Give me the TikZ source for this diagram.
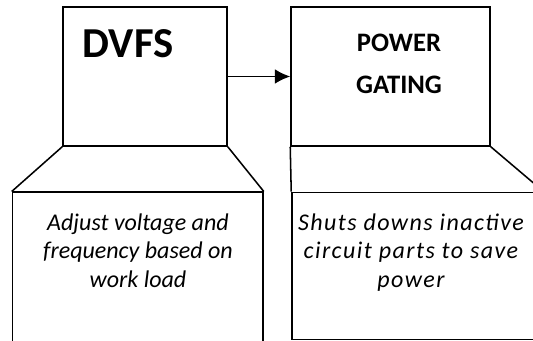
\documentclass[tikz,border=0pt]{standalone}
\usepackage{fontspec}
\setmainfont{Carlito}
\newfontfamily\spacedfont[LetterSpace=6]{Carlito}
\usetikzlibrary{arrows.meta}

\tikzset{
  box/.style={draw, inner sep=0pt},
  title/.style={align=center, inner sep=0pt},
  note/.style={font=\itshape\fontsize{18}{21.4}\selectfont, align=center, inner sep=0pt},
}

\begin{document}
\begin{tikzpicture}[x=0.75pt, y=-0.75pt, line width=1.15pt]
  \useasboundingbox (0,0) rectangle (533,341);
  \clip (0,0) rectangle (533,341);

  % upper boxes
  \node[box, minimum width=123pt, minimum height=104.25pt] (dvfs) at (145,76.5) {};
  \node[box, minimum width=149.25pt, minimum height=104.25pt] (pg) at (390.5,76.5) {};

  % lower boxes
  \node[box, minimum width=187.9pt, minimum height=125.6pt] (dvfsnote) at (137.75,276) {};
  \node[box, minimum width=188.25pt, minimum height=110.25pt] (pgnote) at (417.5,266) {};

  % headings
  \node[title, font=\bfseries\fontsize{32}{36}\selectfont, anchor=base] (dvfstitle) at (128,58) {DVFS};
  \node[title, font=\bfseries\fontsize{20}{31.5}\selectfont, anchor=north] (pgtitle) at (399,33) {POWER\\GATING};

  % descriptions
  \node[note, anchor=north] (dvfstext) at (138,213) {Adjust voltage and\\frequency based on\\work load};
  \node[note, font=\spacedfont\itshape\fontsize{18}{21.4}\selectfont, anchor=north] (pgtext) at (411,213) {Shuts downs inactive\\circuit parts to save\\power};

  \draw[-{Latex[length=11.5pt,width=11pt]}] (dvfs.east) -- (pg.west);

  % sides of the trapezoids
  \draw (dvfs.south west) -- (dvfsnote.north west);
  \draw (dvfs.south east) -- (dvfsnote.north east);
  \draw (pg.south west) -- (pgnote.north west);
  \draw (pg.south east) -- (pgnote.north east);
\end{tikzpicture}
\end{document}
